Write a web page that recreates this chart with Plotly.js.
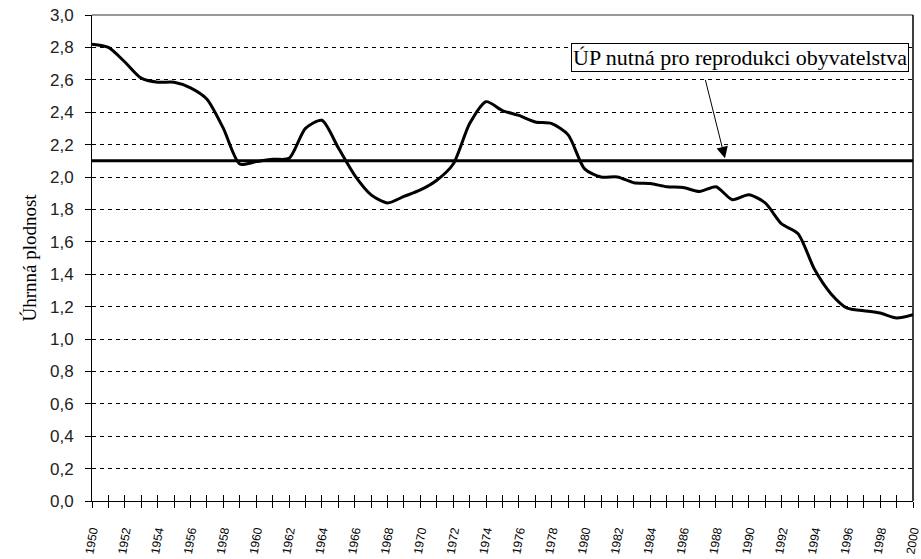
<!DOCTYPE html>
<html>
<head>
<meta charset="utf-8">
<script src="https://cdn.plot.ly/plotly-3.0.1.min.js"></script>
<style>html,body{margin:0;padding:0;background:#fff;}#chart{width:921px;height:559px;}</style>
</head>
<body>
<div id="chart"></div>
<script>
var years = [1950,1951,1952,1953,1954,1955,1956,1957,1958,1959,
             1960,1961,1962,1963,1964,1965,1966,1967,1968,1969,
             1970,1971,1972,1973,1974,1975,1976,1977,1978,1979,
             1980,1981,1982,1983,1984,1985,1986,1987,1988,1989,
             1990,1991,1992,1993,1994,1995,1996,1997,1998,1999,2000];
var tfr = [2.82,2.80,2.71,2.61,2.585,2.585,2.55,2.48,2.30,2.08,
           2.095,2.11,2.115,2.30,2.35,2.18,2.01,1.89,1.84,1.88,
           1.92,1.98,2.08,2.33,2.465,2.41,2.38,2.34,2.33,2.26,
           2.05,2.00,2.00,1.965,1.96,1.94,1.935,1.91,1.94,1.86,
           1.89,1.84,1.71,1.65,1.43,1.28,1.19,1.175,1.16,1.13,1.15];
var replacementYears = [1950, 2000];
var replacementLevel = [2.1, 2.1];
var tickText = ["1950","","1952","","1954","","1956","","1958","",
                "1960","","1962","","1964","","1966","","1968","",
                "1970","","1972","","1974","","1976","","1978","",
                "1980","","1982","","1984","","1986","","1988","",
                "1990","","1992","","1994","","1996","","1998","","2000"];
var yTicks = [0,0.2,0.4,0.6,0.8,1.0,1.2,1.4,1.6,1.8,2.0,2.2,2.4,2.6,2.8,3.0];
var annotationText = "ÚP nutná pro reprodukci obyvatelstva";
var yTitle = "Úhrnná plodnost";

var traces = [
  {x: replacementYears, y: replacementLevel, type: 'scatter', mode: 'lines',
   xaxis: 'x2', yaxis: 'y',
   line: {color: '#000', width: 3}, hoverinfo: 'skip'},
  {x: years, y: tfr, type: 'scatter', mode: 'lines',
   line: {color: '#000', width: 3, shape: 'spline', smoothing: 0.7}, hoverinfo: 'skip'}
];

var layout = {
  width: 921, height: 559,
  margin: {l: 92, r: 8, t: 15, b: 58},
  paper_bgcolor: '#fff', plot_bgcolor: '#fff',
  showlegend: false,
  separators: ', ',
  xaxis: {
    range: [1950, 2000], tickmode: 'array', tickvals: years, ticktext: tickText,
    ticks: 'outside', ticklen: 6, tickwidth: 1, tickcolor: '#000',
    tickangle: -80, tickfont: {family: 'Liberation Sans, Arial, sans-serif', size: 12, color: '#000'},
    ticklabelstandoff: 11, ticklabeloverflow: 'allow',
    showline: true, linecolor: '#000', linewidth: 1,
    showgrid: false, zeroline: false
  },
  xaxis2: {
    range: [1950, 2000], overlaying: 'x', anchor: 'y', side: 'bottom',
    tickmode: 'array', tickvals: years, showticklabels: false,
    ticks: 'inside', ticklen: 6, tickwidth: 1, tickcolor: '#000',
    showline: false, showgrid: false, zeroline: false
  },
  yaxis: {
    range: [0, 3], tickmode: 'array', tickvals: yTicks, tickformat: '.1f',
    ticks: 'outside', ticklen: 6, tickwidth: 1, tickcolor: '#000',
    tickfont: {family: 'Liberation Sans, Arial, sans-serif', size: 17, color: '#222'},
    ticklabelstandoff: 8,
    showline: true, linecolor: '#000', linewidth: 1,
    showgrid: true, gridcolor: '#000', gridwidth: 1, griddash: '4px,4px',
    zeroline: false,
    title: {text: yTitle, font: {family: 'Liberation Serif, Times New Roman, serif', size: 19, color: '#000'}, standoff: 8}
  },
  shapes: [
    {type: 'line', xref: 'paper', yref: 'paper', x0: 0, x1: 1, y0: 1, y1: 1, line: {color: '#777', width: 1.5}},
    {type: 'line', xref: 'paper', yref: 'paper', x0: 1, x1: 1, y0: 0, y1: 1, line: {color: '#000', width: 1.5}}
  ],
  annotations: [
    {x: 1989.47, y: 2.735, xref: 'x', yref: 'y', text: annotationText, showarrow: false,
     font: {family: 'Liberation Serif, Times New Roman, serif', size: 22, color: '#000'},
     bordercolor: '#000', borderwidth: 1, borderpad: 1, bgcolor: '#fff'},
    {x: 1988.55, y: 2.115, xref: 'x', yref: 'y', text: '', showarrow: true,
     ax: -20, ay: -80, arrowhead: 2, arrowsize: 2.3, arrowwidth: 1, arrowcolor: '#000'}
  ]
};

Plotly.newPlot('chart', traces, layout, {staticPlot: true, displayModeBar: false});
</script>
</body>
</html>
